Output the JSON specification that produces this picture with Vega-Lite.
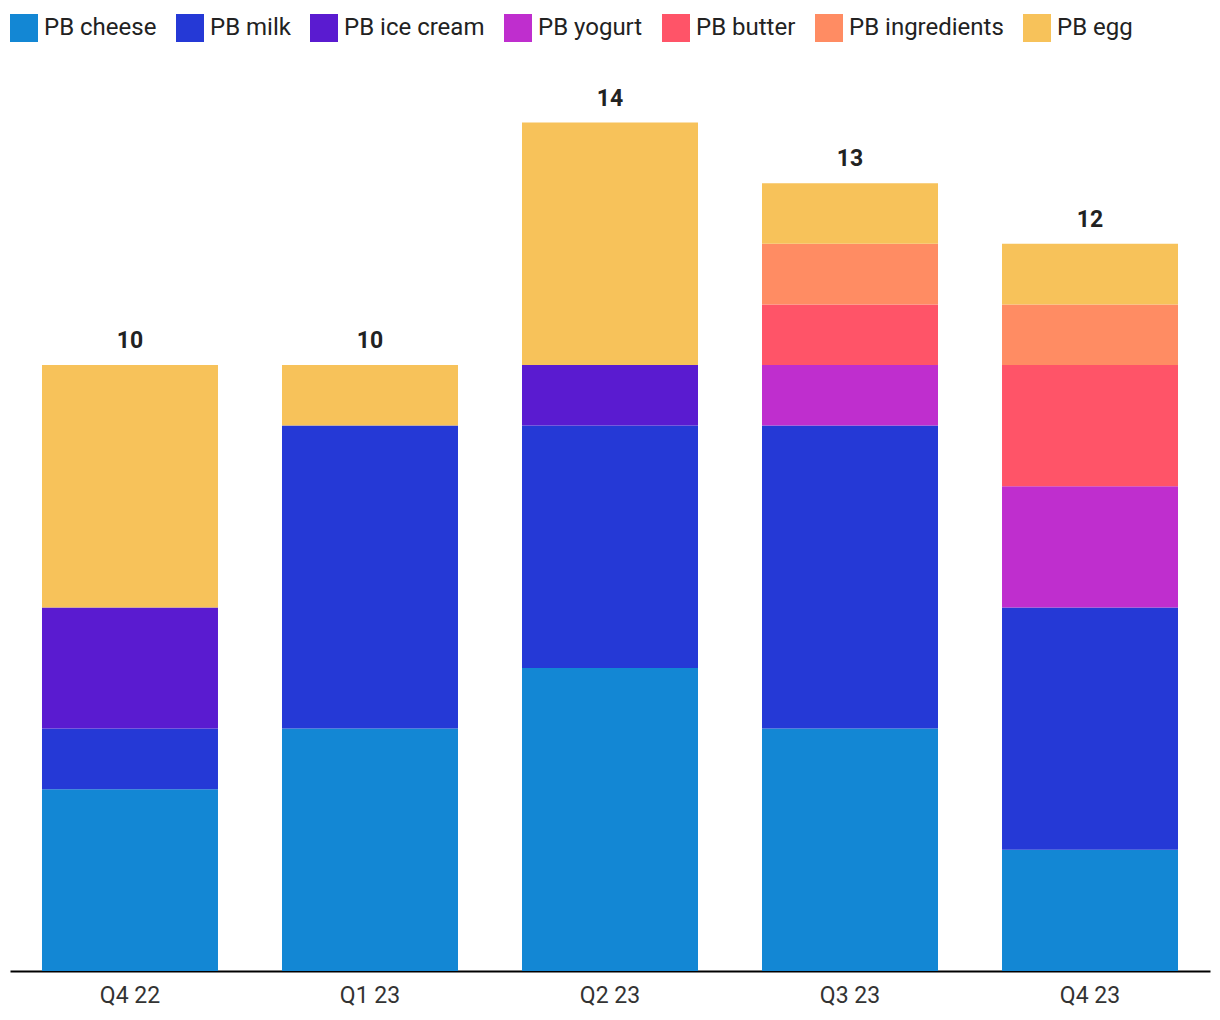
{
  "$schema": "https://vega.github.io/schema/vega-lite/v6.json",
  "width": 1200,
  "height": 909,
  "autosize": {"type": "none"},
  "padding": {"left": 10, "right": 10, "top": 62, "bottom": 49},
  "background": "white",
  "config": {
    "view": {"stroke": null},
    "font": "Roboto"
  },
  "data": {
    "values": [
      {"quarter": "Q4 22", "category": "PB cheese", "value": 3},
      {"quarter": "Q4 22", "category": "PB milk", "value": 1},
      {"quarter": "Q4 22", "category": "PB ice cream", "value": 2},
      {"quarter": "Q4 22", "category": "PB egg", "value": 4},
      {"quarter": "Q1 23", "category": "PB cheese", "value": 4},
      {"quarter": "Q1 23", "category": "PB milk", "value": 5},
      {"quarter": "Q1 23", "category": "PB egg", "value": 1},
      {"quarter": "Q2 23", "category": "PB cheese", "value": 5},
      {"quarter": "Q2 23", "category": "PB milk", "value": 4},
      {"quarter": "Q2 23", "category": "PB ice cream", "value": 1},
      {"quarter": "Q2 23", "category": "PB egg", "value": 4},
      {"quarter": "Q3 23", "category": "PB cheese", "value": 4},
      {"quarter": "Q3 23", "category": "PB milk", "value": 5},
      {"quarter": "Q3 23", "category": "PB yogurt", "value": 1},
      {"quarter": "Q3 23", "category": "PB butter", "value": 1},
      {"quarter": "Q3 23", "category": "PB ingredients", "value": 1},
      {"quarter": "Q3 23", "category": "PB egg", "value": 1},
      {"quarter": "Q4 23", "category": "PB cheese", "value": 2},
      {"quarter": "Q4 23", "category": "PB milk", "value": 4},
      {"quarter": "Q4 23", "category": "PB yogurt", "value": 2},
      {"quarter": "Q4 23", "category": "PB butter", "value": 2},
      {"quarter": "Q4 23", "category": "PB ingredients", "value": 1},
      {"quarter": "Q4 23", "category": "PB egg", "value": 1}
    ]
  },
  "encoding": {
    "x": {
      "field": "quarter",
      "type": "nominal",
      "sort": ["Q4 22", "Q1 23", "Q2 23", "Q3 23", "Q4 23"],
      "scale": {"paddingInner": 0.2667, "paddingOuter": 0.1333},
      "axis": {
        "title": null,
        "labelAngle": 0,
        "ticks": false,
        "domainColor": "#000000",
        "domainWidth": 2,
        "labelFontSize": 23,
        "labelColor": "#333333",
        "labelPadding": 13
      }
    }
  },
  "layer": [
    {
      "transform": [
        {"calculate": "indexof(['PB cheese', 'PB milk', 'PB ice cream', 'PB yogurt', 'PB butter', 'PB ingredients', 'PB egg'], datum.category)", "as": "stackOrder"}
      ],
      "mark": {"type": "bar"},
      "encoding": {
        "y": {
          "field": "value",
          "type": "quantitative",
          "aggregate": "sum",
          "stack": "zero",
          "scale": {"domain": [0, 15], "nice": false},
          "axis": null
        },
        "order": {"field": "stackOrder", "type": "quantitative", "sort": "ascending"},
        "color": {
          "field": "category",
          "type": "nominal",
          "sort": ["PB cheese", "PB milk", "PB ice cream", "PB yogurt", "PB butter", "PB ingredients", "PB egg"],
          "scale": {
            "domain": ["PB cheese", "PB milk", "PB ice cream", "PB yogurt", "PB butter", "PB ingredients", "PB egg"],
            "range": ["#1387D4", "#2539D6", "#5A1BD0", "#BF2ECE", "#FF5468", "#FF8C63", "#F7C25A"]
          },
          "legend": {
            "title": null,
            "orient": "none",
            "direction": "horizontal",
            "legendX": 0,
            "legendY": -48,
            "symbolType": "square",
            "symbolSize": 784,
            "symbolStrokeWidth": 0,
            "symbolOpacity": 1,
            "labelFontSize": 24,
            "labelColor": "#222222",
            "labelOffset": 6,
            "columnPadding": 19,
            "columns": 7
          }
        }
      }
    },
    {
      "transform": [
        {"aggregate": [{"op": "sum", "field": "value", "as": "total"}], "groupby": ["quarter"]}
      ],
      "mark": {"type": "text", "dy": -17, "baseline": "alphabetic", "fontSize": 23, "fontWeight": "bold", "color": "#222222"},
      "encoding": {
        "y": {"field": "total", "type": "quantitative"},
        "text": {"field": "total", "type": "quantitative"}
      }
    }
  ]
}
